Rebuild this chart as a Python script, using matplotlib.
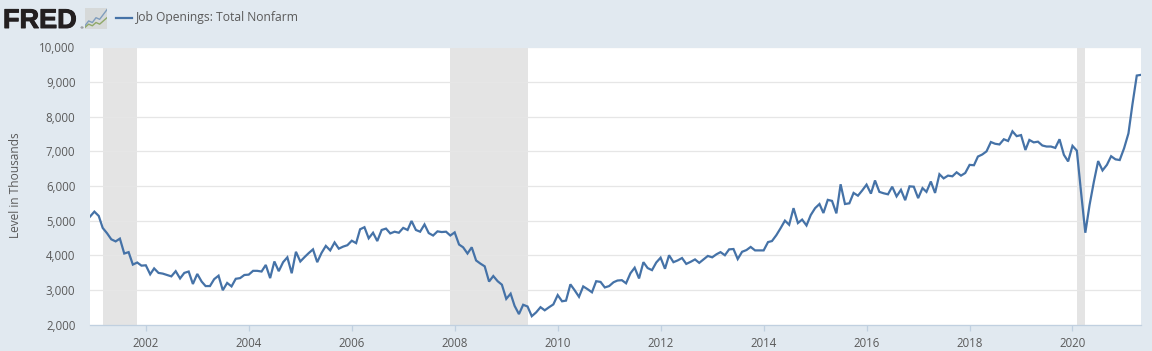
import pandas as pd
import matplotlib
matplotlib.use('Agg')
import matplotlib.pyplot as plt
import matplotlib.dates as mdates
import matplotlib.patheffects as pe
from matplotlib.patches import FancyBboxPatch
from matplotlib.ticker import FuncFormatter

# monthly job openings, thousands, Dec 2000 - May 2021
job_openings = [
    5115,
    5260, 5135, 4790, 4635, 4460, 4400, 4480, 4050, 4090, 3730, 3790, 3700,
    3710, 3450, 3620, 3490, 3470, 3430, 3390, 3540, 3330, 3490, 3530, 3170,
    3460, 3240, 3110, 3110, 3310, 3410, 2990, 3200, 3100, 3320, 3340, 3430,
    3440, 3550, 3550, 3530, 3720, 3340, 3820, 3540, 3800, 3940, 3480, 4100,
    3820, 3950, 4060, 4170, 3800, 4070, 4270, 4140, 4370, 4190, 4250, 4290,
    4420, 4350, 4750, 4810, 4490, 4650, 4410, 4730, 4770, 4630, 4680, 4650,
    4790, 4730, 4990, 4730, 4680, 4890, 4640, 4570, 4690, 4670, 4680, 4570,
    4660, 4310, 4230, 4050, 4230, 3850, 3760, 3680, 3240, 3400, 3250, 3150,
    2740, 2890, 2540, 2300, 2570, 2520, 2240, 2350, 2500, 2410, 2500, 2580,
    2850, 2670, 2690, 3160, 2990, 2800, 3100, 3020, 2930, 3250, 3230, 3070,
    3110, 3220, 3270, 3280, 3190, 3480, 3640, 3330, 3800, 3630, 3570, 3790,
    3930, 3610, 4000, 3800, 3850, 3920, 3750, 3810, 3880, 3780, 3880, 3980,
    3940, 4030, 4090, 4000, 4170, 4180, 3890, 4100, 4150, 4240, 4140, 4140,
    4140, 4380, 4410, 4580, 4780, 5000, 4880, 5360, 4930, 5030, 4860, 5160,
    5360, 5480, 5220, 5600, 5570, 5210, 6050, 5480, 5500, 5800, 5720, 5870,
    6040, 5780, 6160, 5830, 5790, 5760, 5980, 5700, 5890, 5590, 5990, 5980,
    5650, 5940, 5830, 6130, 5800, 6340, 6220, 6300, 6280, 6395, 6300, 6375,
    6610, 6600, 6850, 6910, 7000, 7270, 7220, 7200, 7350, 7300, 7580, 7440,
    7470, 7040, 7330, 7260, 7280, 7170, 7140, 7140, 7100, 7350, 6900, 6710,
    7160, 7020, 5850, 4650, 5450, 6130, 6720, 6450, 6610, 6860, 6770, 6750,
    7090, 7520, 8350, 9190, 9210,
]
recession_starts = ['2001-03-01', '2007-12-01', '2020-02-01']
recession_ends = ['2001-11-01', '2009-06-01', '2020-04-01']
y_ticks = [2000, 3000, 4000, 5000, 6000, 7000, 8000, 9000, 10000]
x_tick_years = [2002, 2004, 2006, 2008, 2010, 2012, 2014, 2016, 2018, 2020]
series_name = 'Job Openings: Total Nonfarm'
y_title = 'Level in Thousands'

# little chart in the logo
icon_blue = [2, 5, 4, 7, 6, 9, 12]
icon_green = [1, 3, 2, 4, 3, 5, 7]

BG = '#e1e9f0'
BLUE = '#4572a7'
TEXT = '#5a5a5a'
W, H = 1152, 351

plt.rcParams['font.family'] = ['Open Sans', 'DejaVu Sans']

dates = pd.date_range('2000-12-01', periods=len(job_openings), freq='MS')

fig = plt.figure(figsize=(W / 100, H / 100), dpi=100, facecolor=BG)
ax = fig.add_axes([90 / W, 1 - 324.5 / H, (1141 - 90) / W, (324.5 - 47.5) / H])
ax.set_facecolor('white')

for s, e in zip(recession_starts, recession_ends):
    ax.axvspan(pd.Timestamp(s), pd.Timestamp(e), color='#e4e4e4', lw=0, zorder=1)

ax.plot(dates, job_openings, color=BLUE, lw=1.6, solid_joinstyle='miter', zorder=3)

ax.set_xlim(dates[0], dates[-1])
ax.set_ylim(2000, 10000)
ax.set_yticks(y_ticks)
ax.yaxis.set_major_formatter(FuncFormatter(lambda v, p: f'{int(v):,}'))
ax.set_xticks([pd.Timestamp(f'{y}-01-01') for y in x_tick_years])
ax.xaxis.set_major_formatter(mdates.DateFormatter('%Y'))
ax.grid(True, axis='y', color='#e6e6e6', lw=0.9, zorder=2)
ax.set_axisbelow(False)

for side in ['top', 'right', 'left']:
    ax.spines[side].set_visible(False)
ax.spines['bottom'].set_color('#c0d0e0')
ax.spines['bottom'].set_linewidth(0.9)
ax.tick_params(axis='y', length=0, pad=10.5, labelsize=8.3, labelcolor=TEXT)
ax.tick_params(axis='x', length=4, width=0.9, color='#c0d0e0', pad=5, labelsize=8.3, labelcolor=TEXT)

fig.text(15.5 / W, 1 - 185.5 / H, y_title, rotation=90, ha='center', va='center',
         fontsize=8.6, color=TEXT)

# header: logo and legend
fig.text(3 / W, 1 - 28 / H, 'FRED', family='Liberation Sans', weight='bold', fontsize=19.5,
         color='#231f20', ha='left', va='baseline',
         path_effects=[pe.withStroke(linewidth=0.7, foreground='#231f20')])
fig.text(79 / W, 1 - 29 / H, '®', family='DejaVu Sans', fontsize=3, color='#231f20',
         ha='left', va='baseline')
fig.add_artist(FancyBboxPatch((85 / W, 1 - 29 / H), 22 / W, 21 / H,
                              boxstyle='round,pad=0', transform=fig.transFigure,
                              facecolor='#d6d9d9', edgecolor='none'))
icon = fig.add_axes([85 / W, 1 - 29 / H, 22 / W, 21 / H], zorder=5)
icon.axis('off')
icon.plot(range(len(icon_blue)), icon_blue, color='#7f9dbd', lw=1)
icon.plot(range(len(icon_green)), icon_green, color='#8fa868', lw=1)
icon.set_xlim(0, len(icon_blue) - 1)
icon.set_ylim(0, 13)

fig.add_artist(plt.Line2D([116 / W, 132 / W], [1 - 18 / H, 1 - 18 / H], color=BLUE, lw=1.6,
                          transform=fig.transFigure))
fig.text(136 / W, 1 - 18 / H, series_name, fontsize=8.7, color=TEXT, ha='left', va='center')

fig.savefig('out.png', dpi=100, facecolor=BG)
